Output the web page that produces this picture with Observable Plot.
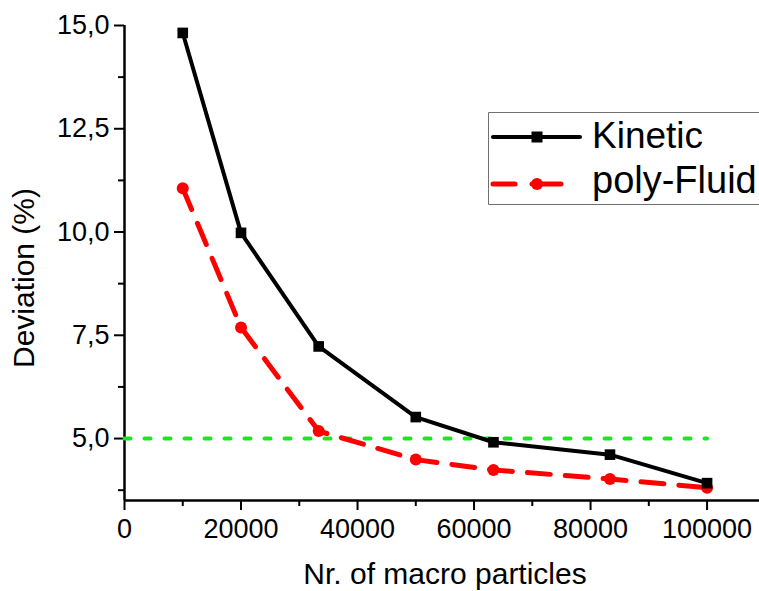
<!DOCTYPE html>
<html>
<head>
<meta charset="utf-8">
<script src="https://cdn.jsdelivr.net/npm/d3@7"></script>
<script src="https://cdn.jsdelivr.net/npm/@observablehq/plot@0.6"></script>
<style>
  html, body { margin: 0; padding: 0; background: #fff; overflow: hidden; }
  #wrap { position: relative; width: 759px; height: 591px; overflow: hidden; font-family: "Liberation Sans", Arial, sans-serif; }
  #wrap > svg { display: block; }
  #legend { position: absolute; left: 0; top: 0; pointer-events: none; }
</style>
</head>
<body>
<div id="wrap"></div>
<script>
// ---- data ----
const particles = [10000, 20000, 33333, 50000, 63333, 83333, 100000];
const kinetic   = [14.82, 9.98, 7.23, 5.52, 4.91, 4.61, 3.92];
const polyFluid = [11.06, 7.69, 5.18, 4.49, 4.24, 4.02, 3.81];
const thresholdX = [0, 100000];
const thresholdY = [5, 5];
const xMajor = [0, 20000, 40000, 60000, 80000, 100000];
const xMinor = [10000, 30000, 50000, 70000, 90000];
const yMajor = [5, 7.5, 10, 12.5, 15];
const yMinor = [3.75, 6.25, 8.75, 11.25, 13.75];
const seriesNames = ["Kinetic", "poly-Fluid"];
const xTitle = "Nr. of macro particles";
const yTitle = "Deviation (%)";

const kinData = particles.map((x, i) => ({x, y: kinetic[i]}));
const fluidData = particles.map((x, i) => ({x, y: polyFluid[i]}));
const thrData = thresholdX.map((x, i) => ({x, y: thresholdY[i]}));
const yFmt = d => d3.format(".1f")(d).replace(".", ",");

const plot = Plot.plot({
  width: 759,
  height: 591,
  marginLeft: 124,
  marginTop: 25,
  marginBottom: 91,
  marginRight: 0,
  style: {fontFamily: "'Liberation Sans', Arial, sans-serif", fontSize: "27px", background: "white", color: "black"},
  x: {domain: [0, 109000]},
  y: {domain: [3.5, 15]},
  marks: [
    Plot.axisX({ticks: xMajor, tickSize: 10, tickPadding: 8, fontSize: 27, strokeWidth: 2, tickFormat: d3.format("d"), label: null}),
    Plot.axisX({ticks: xMinor, tickSize: 6, strokeWidth: 2, tickFormat: () => "", label: null}),
    Plot.axisY({ticks: yMajor, tickSize: 10, tickPadding: 5, fontSize: 27, strokeWidth: 2, tickFormat: yFmt, label: null}),
    Plot.axisY({ticks: yMinor, tickSize: 6, strokeWidth: 2, tickFormat: () => "", label: null}),
    Plot.ruleX([0], {strokeWidth: 2.5}),
    Plot.ruleY([3.5], {strokeWidth: 2.5}),
    Plot.line(thrData, {x: "x", y: "y", stroke: "#1ee61e", strokeWidth: 4, strokeDasharray: "6,14"}),
    Plot.line(fluidData, {x: "x", y: "y", stroke: "#ff0000", strokeWidth: 5, strokeDasharray: "23,15"}),
    Plot.dot(fluidData, {x: "x", y: "y", r: 6, fill: "#ff0000", stroke: "none"}),
    Plot.line(kinData, {x: "x", y: "y", stroke: "black", strokeWidth: 4}),
    Plot.dot(kinData, {x: "x", y: "y", r: 6, symbol: "square", fill: "black", stroke: "none"}),
    Plot.text([xTitle], {text: d => d, frameAnchor: "bottom", textAnchor: "middle", lineAnchor: "middle", dx: 3, dy: 74, fontSize: 30}),
    Plot.text([yTitle], {text: d => d, frameAnchor: "left", textAnchor: "middle", lineAnchor: "middle", rotate: -90, dx: -100, dy: 15, fontSize: 30})
  ]
});
const wrap = document.getElementById("wrap");
wrap.appendChild(plot);
// make sure tick labels get the intended size
d3.select(plot).selectAll('g[aria-label$="tick label"]').attr("font-size", 27).selectAll("text").attr("font-size", 27);

// ---- legend overlay ----
const svg = d3.select(wrap).append("svg")
  .attr("id", "legend").attr("width", 759).attr("height", 591);
svg.append("rect").attr("x", 488).attr("y", 112).attr("width", 300).attr("height", 93)
  .attr("fill", "white").attr("stroke", "none");
svg.append("path").attr("d", "M780,112.5H488.5V204.5H780")
  .attr("fill", "none").attr("stroke", "#707070").attr("stroke-width", 1);
// Kinetic
svg.append("line").attr("x1", 493).attr("x2", 580).attr("y1", 137).attr("y2", 137)
  .attr("stroke", "black").attr("stroke-width", 4).attr("stroke-linecap", "round");
svg.append("rect").attr("x", 531.5).attr("y", 131.5).attr("width", 11).attr("height", 11).attr("fill", "black");
svg.append("text").attr("x", 592).attr("y", 148).attr("font-size", 37)
  .attr("font-family", "'Liberation Sans', Arial, sans-serif").text(seriesNames[0]);
// poly-Fluid
svg.append("line").attr("x1", 493).attr("x2", 515).attr("y1", 184).attr("y2", 184)
  .attr("stroke", "#ff0000").attr("stroke-width", 5).attr("stroke-linecap", "round");
svg.append("line").attr("x1", 532).attr("x2", 561).attr("y1", 184).attr("y2", 184)
  .attr("stroke", "#ff0000").attr("stroke-width", 5).attr("stroke-linecap", "round");
svg.append("circle").attr("cx", 537).attr("cy", 184).attr("r", 6).attr("fill", "#ff0000");
svg.append("text").attr("x", 592).attr("y", 193).attr("font-size", 38)
  .attr("font-family", "'Liberation Sans', Arial, sans-serif").text(seriesNames[1]);
</script>
</body>
</html>
